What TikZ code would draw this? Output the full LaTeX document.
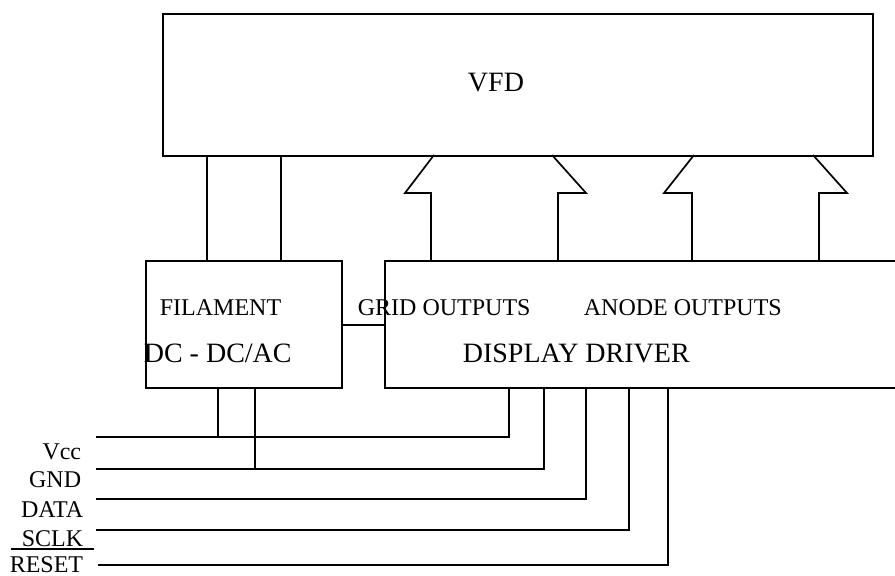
\documentclass[tikz,border=0pt]{standalone}
\usepackage{fontspec}
\setmainfont{Liberation Serif}
\begin{document}
\begin{tikzpicture}[x=1pt,y=-1pt,line width=1.7pt,
  lbl/.style={inner sep=0pt,font=\fontsize{24}{28}\selectfont},
  big/.style={inner sep=0pt,font=\fontsize{28}{32}\selectfont},
  box/.style={draw,inner sep=0pt,anchor=north west}]
\clip (0,0) rectangle (895,576);
% boxes
\node[box,minimum width=710pt,minimum height=142pt] (vfd) at (162,13) {};
\node[box,minimum width=196pt,minimum height=127pt] (fil) at (145,260) {};
\node[box,minimum width=530pt,minimum height=127pt] (drv) at (384,260) {};
% filament to VFD
\draw (207,155) -- (207,260);
\draw (281,155) -- (281,260);
% filament to driver
\draw (fil.east |- 0,325) -- (drv.west |- 0,325);
% arrows
\draw (431,260) -- (431,193) -- (405,193) -- (434,155);
\draw (558,260) -- (558,193) -- (586,193) -- (552,155);
\draw (692,260) -- (692,193) -- (664,193) -- (694,155);
\draw (819,260) -- (819,193) -- (847,193) -- (813,155);
% texts
\node[big,anchor=base] (tvfd) at (496,91) {VFD};
\node[lbl,anchor=base west] (tfil) at (159,315) {FILAMENT};
\node[big,anchor=base west] (tdc) at (143,362) {DC - DC/AC};
\node[lbl,anchor=base west] (tgrid) at (357,315) {GRID OUTPUTS};
\node[lbl,anchor=base west] (tanode) at (583,315) {ANODE OUTPUTS};
\node[big,anchor=base west] (tdrv) at (462,362) {DISPLAY DRIVER};
% signal labels
\node[lbl,anchor=base east] (lvcc) at (82,459) {Vcc};
\node[lbl,anchor=base east] (lgnd) at (82,487) {GND};
\node[lbl,anchor=base east] (ldata) at (84,517) {DATA};
\node[lbl,anchor=base east] (lsclk) at (84,546) {SCLK};
\node[lbl,anchor=base east] (lreset) at (84,572) {RESET};
\draw (11,549) -- (94,549);
% signal lines
\draw (96,437) -- (509,437) -- (509,387);
\draw (96,469) -- (544,469) -- (544,387);
\draw (96,499) -- (586,499) -- (586,387);
\draw (96,530) -- (629,530) -- (629,387);
\draw (98,565) -- (668,565) -- (668,387);
% filament supply taps
\draw (218,387) -- (218,437);
\draw (255,387) -- (255,469);
\end{tikzpicture}
\end{document}
